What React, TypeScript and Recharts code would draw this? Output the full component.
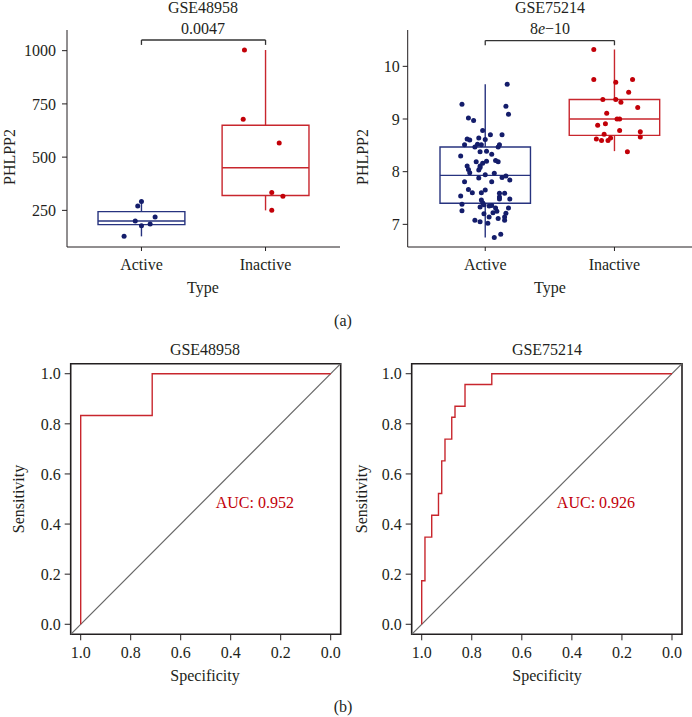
import React from "react";
import {
  ComposedChart,
  Scatter,
  Line,
  XAxis,
  YAxis,
  ReferenceArea,
  ReferenceLine,
  ReferenceDot,
} from "recharts";

const FONT = '"Liberation Serif", "DejaVu Serif", serif';
const INK = "#231f20";
const NAVY = "#141d6b";
const NAVY_BOX = "#27337f";
const RED = "#c20008";
const RED_BOX = "#c8262d";
const GREY = "#666666";

const types = ["Active", "Inactive"];

// (a) GSE48958 — PHLPP2 per sample, with the horizontal jitter
const g48ActiveValues = [292, 270, 219, 200, 186, 178, 128];
const g48ActiveJitter = [0, -0.03, 0.11, -0.05, 0.07, 0, -0.14];
const g48InactiveValues = [1003, 678, 566, 334, 316, 250];
const g48InactiveJitter = [-0.17, -0.18, 0.11, 0.05, 0.14, 0.05];
// [lower whisker, Q1, median, Q3, upper whisker]
const g48ActiveBox = [128, 183, 200, 244, 292];
const g48InactiveBox = [250, 320, 450, 650, 1003];

// (a) GSE75214
const g75ActiveValues = [
  9.66, 9.28, 9.24, 9.09, 9.02, 8.97, 8.78, 8.7, 8.7, 8.62,
  8.6, 8.64, 8.61, 8.51, 8.47, 8.52, 8.51, 8.47, 8.51, 8.38,
  8.33, 8.3, 8.19, 8.2, 8.21, 8.19, 8.11, 8.16, 8.11, 8.04,
  8.03, 8.08, 7.98, 7.97, 7.94, 7.92, 7.88, 7.81, 7.81, 7.84,
  7.66, 7.65, 7.6, 7.6, 7.54, 7.59, 7.59, 7.52, 7.48, 7.48,
  7.38, 7.46, 7.41, 7.37, 7.35, 7.36, 7.31, 7.26, 7.25, 7.2,
  7.22, 7.21, 7.11, 7.14, 7.08, 7.05, 7.02, 7.08, 6.81, 6.75,
  7.14, 7.33, 7.31, 8.39, 7.89,
];
const g75ActiveJitter = [
  0.17, -0.18, 0.16, 0.18, -0.13, -0.09, -0.02, 0.04, 0.13, -0.14,
  -0.12, -0.05, 0, -0.16, -0.08, -0.06, -0.03, 0.1, 0.11, -0.04,
  0.05, -0.19, -0.07, 0.01, 0.08, 0.1, -0.04, -0.02, -0.14, -0.13,
  -0.05, -0.04, -0.12, 0.07, 0, 0.16, -0.05, -0.16, 0.05, 0.19,
  -0.13, 0, -0.1, -0.03, -0.19, 0.11, 0.15, 0.11, 0.11, 0.19,
  -0.18, -0.03, -0.02, -0.01, 0.03, 0.05, 0.18, -0.18, 0.09, -0.01,
  0.06, 0.16, 0.1, 0.15, -0.08, -0.04, 0.02, 0.15, 0.12, 0.07,
  0.03, -0.04, 0.08, 0.01, 0.13,
];
const g75InactiveValues = [
  10.32, 9.75, 9.7, 9.75, 9.51, 9.37, 9.37, 9.32, 9.22, 9.11,
  9.0, 9.0, 8.88, 8.91, 8.78, 8.76, 8.71, 8.66, 8.62, 8.59,
  8.59, 8.64, 8.38,
];
const g75InactiveJitter = [
  -0.16, -0.16, 0.01, 0.14, 0.11, -0.09, 0.01, 0.05, 0.18, -0.06,
  0.02, 0.04, -0.13, -0.07, 0.04, 0.2, -0.08, 0.2, -0.14, -0.1,
  -0.05, -0.03, 0.1,
];
const g75ActiveBox = [6.75, 7.4, 7.93, 8.47, 9.66];
const g75InactiveBox = [8.39, 8.69, 9.0, 9.37, 10.32];

// (b) ROC curves: specificity / sensitivity corners of the step lines
const rocTicks = [0, 0.2, 0.4, 0.6, 0.8, 1];
const g48Spec = [1, 1, 0.714, 0.714, 0];
const g48Sens = [0, 0.833, 0.833, 1, 1];
const g75Spec = [
  1, 1, 0.987, 0.987, 0.96, 0.96, 0.933, 0.933, 0.92, 0.92, 0.907,
  0.907, 0.88, 0.88, 0.867, 0.867, 0.827, 0.827, 0.72, 0.72, 0,
];
const g75Sens = [
  0, 0.174, 0.174, 0.348, 0.348, 0.435, 0.435, 0.522, 0.522, 0.652, 0.652,
  0.739, 0.739, 0.826, 0.826, 0.87, 0.87, 0.957, 0.957, 1, 1,
];

const tickStyle = { fontSize: 16, fill: INK, fontFamily: FONT };

function Txt({ x, y, children, rotate, color, size = 16 }: any) {
  return (
    <div
      style={{
        position: "absolute",
        left: x,
        top: y,
        transform: `translate(-50%, -50%)${rotate ? " rotate(-90deg)" : ""}`,
        whiteSpace: "nowrap",
        fontSize: size,
        color: color || INK,
        lineHeight: "normal",
      }}
    >
      {children}
    </div>
  );
}

function dots(values: number[], jitter: number[], pos: number) {
  return values.map((v, i) => ({ x: pos + jitter[i], y: v }));
}

function BoxPanel({ left, yDomain, yTicks, yWidth, rightMargin, groups, bracket, tickMargin }: any) {
  const half = 0.35;
  return (
    <div style={{ position: "absolute", left, top: 0 }}>
      <ComposedChart
        width={346}
        height={300}
        margin={{ top: 30, right: rightMargin, left: 0, bottom: 23 }}
      >
        <XAxis
          type="number"
          dataKey="x"
          domain={[0.4, 2.6]}
          ticks={[1, 2]}
          tickFormatter={(v: number) => types[v - 1]}
          allowDataOverflow
          stroke={INK}
          tickSize={4}
          tickMargin={8}
          tick={tickStyle}
          height={30}
        />
        <YAxis
          type="number"
          dataKey="y"
          domain={yDomain}
          ticks={yTicks}
          allowDataOverflow
          stroke={INK}
          tickSize={5}
          tickMargin={tickMargin}
          tick={tickStyle}
          width={yWidth}
        />
        {groups.map((g: any) => {
          const [lo, q1, med, q3, hi] = g.box;
          return [
            <ReferenceArea
              key={g.name + "box"}
              x1={g.pos - half}
              x2={g.pos + half}
              y1={q1}
              y2={q3}
              fill="#ffffff"
              fillOpacity={0}
              stroke={g.stroke}
              strokeWidth={1.4}
              strokeOpacity={1}
            />,
            <ReferenceLine
              key={g.name + "med"}
              segment={[{ x: g.pos - half, y: med }, { x: g.pos + half, y: med }]}
              stroke={g.stroke}
              strokeWidth={1.4}
            />,
            <ReferenceLine
              key={g.name + "hi"}
              segment={[{ x: g.pos, y: q3 }, { x: g.pos, y: hi }]}
              stroke={g.stroke}
              strokeWidth={1.4}
            />,
            <ReferenceLine
              key={g.name + "lo"}
              segment={[{ x: g.pos, y: lo }, { x: g.pos, y: q1 }]}
              stroke={g.stroke}
              strokeWidth={1.4}
            />,
          ];
        })}
        <ReferenceLine
          segment={[{ x: 1, y: bracket[0] }, { x: 2, y: bracket[0] }]}
          stroke="#333"
          strokeWidth={1.3}
        />
        <ReferenceLine
          segment={[{ x: 1, y: bracket[0] }, { x: 1, y: bracket[1] }]}
          stroke="#333"
          strokeWidth={1.3}
        />
        <ReferenceLine
          segment={[{ x: 2, y: bracket[0] }, { x: 2, y: bracket[1] }]}
          stroke="#333"
          strokeWidth={1.3}
        />
        {groups.map((g: any) => (
          <Scatter
            key={g.name + "pts"}
            data={g.points}
            isAnimationActive={false}
            shape={(p: any) => <circle cx={p.cx} cy={p.cy} r={2.5} fill={g.dot} />}
          />
        ))}
      </ComposedChart>
    </div>
  );
}

function RocPanel({ left, spec, sens, yWidth, rightMargin, auc }: any) {
  const data = spec.map((s: number, i: number) => ({ spec: s, sens: sens[i] }));
  return (
    <div style={{ position: "absolute", left, top: 320 }}>
      <ComposedChart
        width={346}
        height={397}
        data={data}
        margin={{ top: 43.7, right: rightMargin, left: 0, bottom: 52.7 }}
      >
        <XAxis
          type="number"
          dataKey="spec"
          domain={[-0.04, 1.04]}
          reversed
          ticks={rocTicks}
          tickFormatter={(v: number) => v.toFixed(1)}
          allowDataOverflow
          axisLine={false}
          tickLine={{ stroke: INK }}
          tickSize={6}
          tickMargin={6}
          tick={tickStyle}
          height={30}
        />
        <YAxis
          type="number"
          dataKey="sens"
          domain={[-0.04, 1.04]}
          ticks={rocTicks}
          tickFormatter={(v: number) => v.toFixed(1)}
          allowDataOverflow
          axisLine={false}
          tickLine={{ stroke: INK }}
          tickSize={6}
          tickMargin={4}
          tick={tickStyle}
          width={yWidth}
        />
        <ReferenceLine
          segment={[{ x: 1.04, y: -0.04 }, { x: -0.04, y: 1.04 }]}
          stroke={GREY}
          strokeWidth={1.2}
        />
        <Line
          dataKey="sens"
          type="linear"
          stroke={RED_BOX}
          strokeWidth={1.4}
          dot={false}
          isAnimationActive={false}
        />
        <ReferenceArea
          x1={-0.04}
          x2={1.04}
          y1={-0.04}
          y2={1.04}
          fill="#ffffff"
          fillOpacity={0}
          stroke={INK}
          strokeWidth={1.6}
          strokeOpacity={1}
        />
        <ReferenceDot
          x={0.46}
          y={0.487}
          r={0}
          fill="none"
          stroke="none"
          label={{ value: auc, position: "right", offset: 0, fill: RED, fontSize: 16, fontFamily: FONT }}
        />
      </ComposedChart>
    </div>
  );
}

export default function App() {
  const g48Groups = [
    { name: "a", pos: 1, box: g48ActiveBox, stroke: NAVY_BOX, dot: NAVY, points: dots(g48ActiveValues, g48ActiveJitter, 1) },
    { name: "i", pos: 2, box: g48InactiveBox, stroke: RED_BOX, dot: RED, points: dots(g48InactiveValues, g48InactiveJitter, 2) },
  ];
  const g75Groups = [
    { name: "a", pos: 1, box: g75ActiveBox, stroke: NAVY_BOX, dot: NAVY, points: dots(g75ActiveValues, g75ActiveJitter, 1) },
    { name: "i", pos: 2, box: g75InactiveBox, stroke: RED_BOX, dot: RED, points: dots(g75InactiveValues, g75InactiveJitter, 2) },
  ];

  return (
    <div
      style={{
        position: "absolute",
        left: 0,
        top: 0,
        width: 692,
        height: 717,
        overflow: "hidden",
        background: "#ffffff",
        fontFamily: FONT,
        color: INK,
      }}
    >
      <BoxPanel
        left={0}
        yDomain={[78, 1097]}
        yTicks={[250, 500, 750, 1000]}
        yWidth={67}
        rightMargin={6}
        tickMargin={6}
        groups={g48Groups}
        bracket={[1050, 1027]}
      />
      <BoxPanel
        left={346}
        yDomain={[6.57, 10.69]}
        yTicks={[7, 8, 9, 10]}
        yWidth={61.7}
        rightMargin={0}
        tickMargin={3}
        groups={g75Groups}
        bracket={[10.49, 10.4]}
      />
      <RocPanel left={0} spec={g48Spec} sens={g48Sens} yWidth={70.7} rightMargin={5.3} auc="AUC: 0.952" />
      <RocPanel left={346} spec={g75Spec} sens={g75Sens} yWidth={65.7} rightMargin={10} auc="AUC: 0.926" />

      <Txt x={203} y={8}>GSE48958</Txt>
      <Txt x={550} y={8}>GSE75214</Txt>
      <Txt x={203} y={29}>0.0047</Txt>
      <Txt x={550} y={29}>
        8<i>e</i>−10
      </Txt>
      <Txt x={10} y={157} rotate>PHLPP2</Txt>
      <Txt x={363} y={157} rotate>PHLPP2</Txt>
      <Txt x={203} y={288}>Type</Txt>
      <Txt x={550} y={288}>Type</Txt>
      <Txt x={343} y={321}>(a)</Txt>

      <Txt x={205} y={350}>GSE48958</Txt>
      <Txt x={547} y={350}>GSE75214</Txt>
      <Txt x={19} y={499} rotate>Sensitivity</Txt>
      <Txt x={362} y={499} rotate>Sensitivity</Txt>
      <Txt x={205} y={676}>Specificity</Txt>
      <Txt x={547} y={676}>Specificity</Txt>
      <Txt x={343} y={707}>(b)</Txt>
    </div>
  );
}
